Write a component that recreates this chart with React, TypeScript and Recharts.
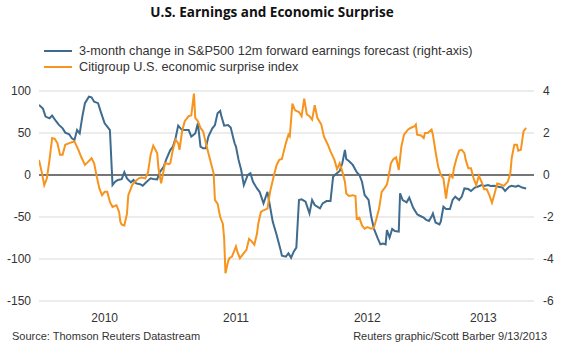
import React from 'react';
import { LineChart, Line, XAxis, YAxis, CartesianGrid, ReferenceLine } from 'recharts';

const YEAR_TICKS = [2010, 2011, 2012, 2013];
// label positions: centre of each (partial) year on the axis
const YEAR_LABEL_TICKS = [2010.5, 2011.5, 2012.5, 2013.385];
const LEFT_TICKS = [-150, -100, -50, 0, 50, 100];
const RIGHT_TICKS = [-6, -4, -2, 0, 2, 4];

// 3-month change in S&P500 12m forward earnings forecast (right axis, %)
const earningsRaw: [number, number][] = [
  [2010.0, 3.34], [2010.03, 3.16], [2010.05, 2.78], [2010.08, 2.7], [2010.1, 2.83],
  [2010.13, 2.56], [2010.15, 2.4], [2010.18, 2.22], [2010.2, 2.02], [2010.23, 1.94],
  [2010.25, 1.75], [2010.27, 1.67], [2010.29, 2.14], [2010.31, 1.98], [2010.33, 2.78],
  [2010.35, 3.42], [2010.38, 3.73], [2010.4, 3.7], [2010.42, 3.49], [2010.45, 3.42],
  [2010.47, 3.02], [2010.5, 2.46], [2010.52, 2.3], [2010.54, 2.14], [2010.56, -0.48],
  [2010.58, -0.32], [2010.6, -0.24], [2010.63, -0.2], [2010.65, 0.13], [2010.67, -0.16],
  [2010.7, -0.35], [2010.72, -0.24], [2010.74, -0.4], [2010.77, -0.44], [2010.79, -0.51],
  [2010.82, -0.32], [2010.85, -0.16], [2010.87, -0.19], [2010.9, -0.21], [2010.92, 0.13],
  [2010.95, 0.4], [2010.97, 0.76], [2011.0, 1.19], [2011.02, 1.35], [2011.04, 1.75],
  [2011.06, 2.35], [2011.09, 2.14], [2011.11, 2.14], [2011.14, 2.14], [2011.16, 1.83],
  [2011.19, 1.98], [2011.21, 2.46], [2011.23, 1.35], [2011.25, 1.27], [2011.27, 1.27],
  [2011.29, 1.83], [2011.32, 2.22], [2011.34, 2.38], [2011.36, 2.94], [2011.38, 3.05],
  [2011.39, 2.78], [2011.41, 2.35], [2011.44, 2.38], [2011.46, 2.26], [2011.48, 1.75],
  [2011.49, 1.51], [2011.5, 1.35], [2011.52, 0.72], [2011.54, 0.24], [2011.56, -0.48],
  [2011.59, 0], [2011.61, 0.08], [2011.63, -0.32], [2011.66, -0.64], [2011.68, -0.8],
  [2011.71, -1.35], [2011.74, -0.8], [2011.76, -1.51], [2011.78, -2.22], [2011.81, -2.86],
  [2011.84, -3.57], [2011.85, -3.84], [2011.88, -3.89], [2011.9, -3.73], [2011.92, -3.94],
  [2011.94, -3.65], [2011.96, -3.46], [2011.98, -1.19], [2012.0, -1.16], [2012.03, -1.27],
  [2012.06, -1.83], [2012.08, -1.19], [2012.1, -1.43], [2012.14, -1.59], [2012.16, -1.35],
  [2012.19, -1.24], [2012.22, -1.24], [2012.24, -0.08], [2012.26, 0.03], [2012.29, 0.19],
  [2012.31, 0.56], [2012.33, 1.19], [2012.34, 0.76], [2012.36, 0.67], [2012.39, 0.48],
  [2012.42, 0.13], [2012.44, 0], [2012.46, -0.32], [2012.48, -0.95], [2012.51, -1.19],
  [2012.53, -1.98], [2012.55, -2.54], [2012.58, -3.02], [2012.6, -3.3], [2012.62, -3.26],
  [2012.64, -3.3], [2012.65, -2.62], [2012.67, -2.98], [2012.69, -2.57], [2012.71, -2.67],
  [2012.74, -2.7], [2012.75, -0.87], [2012.77, -1.19], [2012.8, -1.3], [2012.82, -1.08],
  [2012.85, -1.56], [2012.88, -1.87], [2012.9, -1.94], [2012.93, -2.03], [2012.95, -2.14],
  [2012.97, -2.19], [2012.99, -1.98], [2013.0, -1.83], [2013.02, -2.26], [2013.05, -2.35],
  [2013.06, -2.22], [2013.08, -1.51], [2013.1, -1.62], [2013.13, -1.62], [2013.15, -1.19],
  [2013.17, -1.03], [2013.2, -1.19], [2013.22, -1.03], [2013.24, -0.64], [2013.27, -0.67],
  [2013.29, -0.76], [2013.32, -0.6], [2013.34, -0.56], [2013.37, -0.48], [2013.39, -0.52],
  [2013.42, -0.48], [2013.44, -0.52], [2013.47, -0.51], [2013.5, -0.56], [2013.53, -0.6],
  [2013.55, -0.76], [2013.58, -0.56], [2013.6, -0.51], [2013.63, -0.56], [2013.65, -0.51],
  [2013.68, -0.6], [2013.71, -0.64],
];

// Citigroup U.S. economic surprise index (left axis)
const surpriseRaw: [number, number][] = [
  [2010.0, 18], [2010.02, 4], [2010.04, -12], [2010.06, -4], [2010.08, 18],
  [2010.1, 44], [2010.12, 43], [2010.14, 38], [2010.16, 24], [2010.18, 24],
  [2010.2, 36], [2010.23, 38], [2010.25, 39], [2010.27, 40], [2010.3, 30],
  [2010.32, 22], [2010.35, 12], [2010.37, 15], [2010.4, 20], [2010.42, 14],
  [2010.44, -2], [2010.46, -16], [2010.48, -24], [2010.5, -20], [2010.52, -20],
  [2010.54, -32], [2010.56, -38], [2010.59, -36], [2010.61, -44], [2010.62, -56],
  [2010.63, -59], [2010.65, -60], [2010.67, -46], [2010.68, -24], [2010.71, -12],
  [2010.73, -8], [2010.76, -4], [2010.78, -3], [2010.81, -4], [2010.83, 3],
  [2010.85, 24], [2010.87, 35], [2010.88, 32], [2010.9, 26], [2010.91, 8],
  [2010.93, -10], [2010.95, 6], [2010.96, 14], [2010.99, 13], [2011.0, 14],
  [2011.02, 30], [2011.04, 42], [2011.06, 38], [2011.07, 30], [2011.09, 52],
  [2011.11, 64], [2011.14, 70], [2011.16, 71], [2011.18, 97], [2011.19, 68],
  [2011.21, 64], [2011.23, 56], [2011.25, 52], [2011.28, 32], [2011.31, 14],
  [2011.33, 2], [2011.34, -30], [2011.36, -34], [2011.38, -50], [2011.4, -58],
  [2011.41, -75], [2011.42, -117], [2011.44, -103], [2011.45, -99], [2011.47, -97],
  [2011.5, -85], [2011.51, -91], [2011.53, -99], [2011.56, -93], [2011.58, -89],
  [2011.6, -76], [2011.62, -79], [2011.64, -83], [2011.66, -70], [2011.67, -58],
  [2011.69, -44], [2011.71, -42], [2011.74, -40], [2011.76, -20], [2011.79, 0],
  [2011.81, 12], [2011.83, 18], [2011.85, 19], [2011.88, 38], [2011.9, 48],
  [2011.91, 46], [2011.93, 85], [2011.95, 77], [2011.98, 75], [2012.0, 70],
  [2012.02, 91], [2012.04, 72], [2012.06, 70], [2012.08, 66], [2012.1, 83],
  [2012.12, 68], [2012.15, 60], [2012.17, 46], [2012.2, 36], [2012.22, 28],
  [2012.25, 18], [2012.27, 7], [2012.29, 14], [2012.31, 4], [2012.33, -8],
  [2012.34, -22], [2012.36, -25], [2012.39, -24], [2012.41, -25], [2012.42, -52],
  [2012.44, -51], [2012.46, -60], [2012.48, -64], [2012.5, -62], [2012.53, -64],
  [2012.55, -63], [2012.57, -52], [2012.59, -40], [2012.61, -20], [2012.63, -16],
  [2012.65, -11], [2012.66, -4], [2012.68, 14], [2012.7, 19], [2012.72, 21],
  [2012.74, 6], [2012.76, 34], [2012.78, 48], [2012.81, 54], [2012.83, 56],
  [2012.86, 58], [2012.87, 60], [2012.88, 48], [2012.91, 47], [2012.93, 44],
  [2012.94, 50], [2012.96, 50], [2012.99, 54], [2013.0, 48], [2013.02, 28],
  [2013.04, 10], [2013.06, 0], [2013.08, -4], [2013.1, -28], [2013.11, -16],
  [2013.13, 0], [2013.15, -3], [2013.16, 8], [2013.18, 20], [2013.2, 29],
  [2013.22, 30], [2013.24, 26], [2013.25, 18], [2013.27, 8], [2013.29, 8],
  [2013.31, -4], [2013.33, -12], [2013.35, -1], [2013.37, -8], [2013.39, -17],
  [2013.41, -17], [2013.43, -24], [2013.45, -33], [2013.47, -22], [2013.49, -10],
  [2013.51, -11], [2013.54, -13], [2013.57, -8], [2013.59, 2], [2013.6, 20],
  [2013.62, 36], [2013.64, 36], [2013.65, 29], [2013.67, 30], [2013.69, 52],
  [2013.71, 56],
];

const earnings = earningsRaw.map(([t, v]) => ({ t, v }));
const surprise = surpriseRaw.map(([t, v]) => ({ t, v }));

const BLUE = '#3e6b8e';
const ORANGE = '#f7941d';
const FONT = '"Liberation Sans", Arial, sans-serif';
const tickStyle = { fill: '#333', fontSize: 12, fontFamily: FONT };

export default function App() {
  return (
    <div style={{ position: 'absolute', left: 0, top: 0, width: 566, height: 353, background: '#fff', fontFamily: FONT }}>
      <div style={{ position: 'absolute', top: 3, left: 0, width: 544, textAlign: 'center', fontFamily: '"Open Sans", sans-serif', fontWeight: 700, fontSize: 13.5, color: '#111' }}>
        U.S. Earnings and Economic Surprise
      </div>
      <div style={{ position: 'absolute', top: 43, left: 44, fontSize: 12.7, color: '#333', lineHeight: '16px' }}>
        {[
          { c: BLUE, t: '3-month change in S&P500 12m forward earnings forecast (right-axis)' },
          { c: ORANGE, t: 'Citigroup U.S. economic surprise index' },
        ].map((l) => (
          <div key={l.t} style={{ display: 'flex', alignItems: 'center' }}>
            <span style={{ display: 'inline-block', width: 28, height: 2, background: l.c, marginRight: 7 }} />
            <span>{l.t}</span>
          </div>
        ))}
      </div>

      <div style={{ position: 'absolute', left: 0, top: 0 }}>
        <LineChart width={566} height={353} margin={{ top: 91, right: 0, bottom: 22, left: 0 }}>
          <CartesianGrid yAxisId="left" xAxisId="grid" vertical={false} stroke="#d9d9d9" />
          <XAxis
            xAxisId="grid"
            type="number"
            dataKey="t"
            domain={[2010, 2013.77]}
            ticks={YEAR_TICKS}
            tick={false}
            tickSize={6}
            height={0}
            axisLine={{ stroke: '#000' }}
            tickLine={{ stroke: '#000' }}
            allowDataOverflow
          />
          <XAxis
            xAxisId="lbl"
            type="number"
            dataKey="t"
            domain={[2010, 2013.77]}
            ticks={YEAR_LABEL_TICKS}
            tickFormatter={(v: number) => String(Math.floor(v))}
            axisLine={false}
            tickLine={false}
            tickMargin={6}
            height={30}
            tick={tickStyle}
            allowDataOverflow
          />
          <YAxis
            yAxisId="left"
            domain={[-150, 100]}
            ticks={LEFT_TICKS}
            width={39}
            axisLine={false}
            tickLine={false}
            tick={{ ...tickStyle, textAnchor: 'end' }}
          />
          <YAxis
            yAxisId="right"
            orientation="right"
            domain={[-6, 4]}
            ticks={RIGHT_TICKS}
            width={32}
            axisLine={false}
            tickLine={false}
            tickMargin={3}
            tick={tickStyle}
          />
          <ReferenceLine yAxisId="left" xAxisId="grid" y={0} stroke="#000" />
          <Line
            data={earnings}
            xAxisId="grid"
            yAxisId="right"
            dataKey="v"
            type="linear"
            stroke={BLUE}
            strokeWidth={2}
            dot={false}
            isAnimationActive={false}
          />
          <Line
            data={surprise}
            xAxisId="grid"
            yAxisId="left"
            dataKey="v"
            type="linear"
            stroke={ORANGE}
            strokeWidth={2}
            dot={false}
            isAnimationActive={false}
          />
        </LineChart>
      </div>

      <div style={{ position: 'absolute', top: 330, left: 12, fontSize: 11, color: '#333' }}>
        Source: Thomson Reuters Datastream
      </div>
      <div style={{ position: 'absolute', top: 330, right: 19, fontSize: 11, color: '#333' }}>
        Reuters graphic/Scott Barber 9/13/2013
      </div>
    </div>
  );
}
